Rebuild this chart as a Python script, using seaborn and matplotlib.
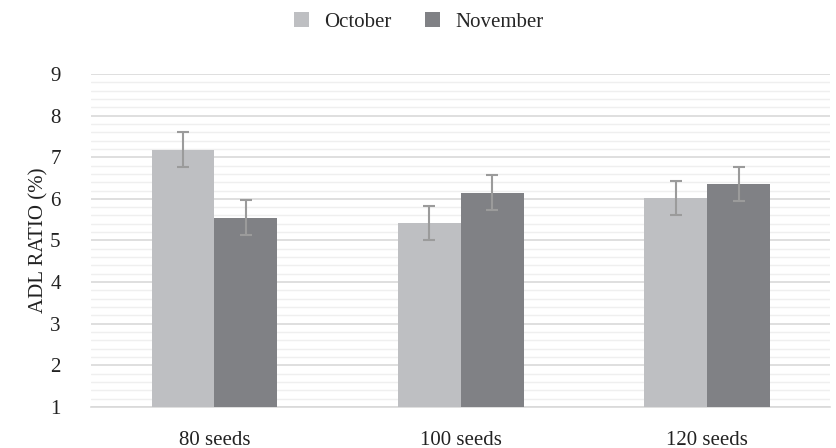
import matplotlib
matplotlib.use("Agg")
import matplotlib.pyplot as plt
import seaborn as sns
import pandas as pd
from matplotlib.ticker import MultipleLocator

categories = ["80 seeds", "100 seeds", "120 seeds"]
months = ["October", "November"]
october = [7.18, 5.42, 6.02]
november = [5.54, 6.15, 6.36]
october_err = [0.42, 0.41, 0.42]
november_err = [0.42, 0.42, 0.41]

df = pd.DataFrame({
    "group": categories * 2,
    "month": [months[0]] * 3 + [months[1]] * 3,
    "ratio": october + november,
})

sns.set_style("white")
plt.rcParams["font.family"] = ["Liberation Serif", "DejaVu Serif"]

fig, ax = plt.subplots(figsize=(8.37, 4.48), dpi=100)
fig.subplots_adjust(left=0.109, right=0.992, top=0.835, bottom=0.0915)

palette = {"October": "#bebfc2", "November": "#808185"}
sns.barplot(data=df, x="group", y="ratio", hue="month", order=categories,
            hue_order=months, palette=palette, width=0.51, saturation=1,
            errorbar=None, linewidth=0, ax=ax, zorder=3)

# error bars on the bar centres
for cont, errs in zip(ax.containers, [october_err, november_err]):
    xs = [b.get_x() + b.get_width() / 2 for b in cont]
    ys = [b.get_height() for b in cont]
    ax.errorbar(xs, ys, yerr=errs, fmt="none", ecolor="#9b9b9b",
                elinewidth=1.5, capsize=4.5, capthick=1.5, zorder=4)

ax.set_ylim(1, 9)
ax.set_xlim(-0.5, 2.5)
ax.yaxis.set_major_locator(MultipleLocator(1))
ax.yaxis.set_minor_locator(MultipleLocator(0.2))
ax.grid(which="major", axis="y", color="#d9d9d9", linewidth=1.2, zorder=0)
ax.grid(which="minor", axis="y", color="#efefef", linewidth=1.0, zorder=0)
ax.set_axisbelow(True)
for s in ["top", "right", "left"]:
    ax.spines[s].set_visible(False)
ax.spines["bottom"].set_color("#d9d9d9")
ax.spines["bottom"].set_linewidth(1.2)
ax.tick_params(axis="both", which="both", length=0, labelsize=15,
               colors="#222222")
ax.tick_params(axis="x", pad=17)
ax.tick_params(axis="y", pad=22)
ax.set_xlabel("")
ax.set_ylabel("ADL RATIO (%)", fontsize=15, color="#222222", labelpad=1)

handles, labels = ax.get_legend_handles_labels()
ax.legend_.remove()
fig.legend(handles, labels, loc="upper center", bbox_to_anchor=(0.5, 1.015),
           ncol=2, frameon=False, fontsize=15, handlelength=0.75,
           handleheight=0.75, columnspacing=1.6, handletextpad=0.7)

fig.savefig("out.png", dpi=100)
